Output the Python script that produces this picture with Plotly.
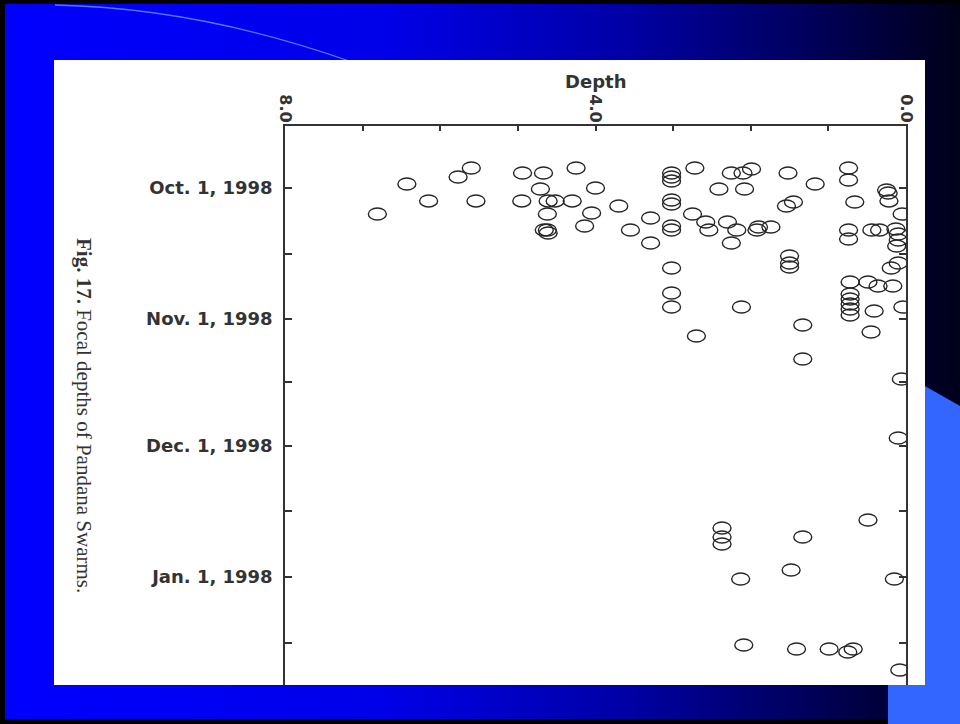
import base64
import plotly.graph_objects as go

# Focal depth (km) of each event in the Pandana swarms
depth = [5.60, 5.77, 6.43, 4.94, 4.67, 4.25, 4.71, 4.00, 6.15, 5.54,
         4.95, 4.61, 4.52, 4.30, 6.81, 4.62, 4.05, 4.14, 4.66, 4.62,
         4.61, 3.70, 3.55, 3.29, 3.29, 3.02, 3.02, 3.02, 2.72, 3.02,
         3.02, 3.02, 3.02, 3.02, 3.02, 3.02, 2.75, 2.58, 2.54, 2.30,
         2.18, 2.25, 2.41, 2.08, 2.25, 2.10, 1.99, 1.92, 1.90, 1.74,
         2.12, 2.70, 1.52, 1.17, 1.54, 1.45, 1.50, 1.50, 1.50, 1.33,
         0.74, 0.74, 0.66, 0.74, 0.74, 0.44, 0.34, 0.25, 0.23, 0.22,
         0.05, 0.13, 0.10, 0.10, 0.12, 0.19, 0.10, 0.72, 0.72, 0.72,
         0.72, 0.72, 0.72, 0.49, 0.36, 0.17, 0.41, 0.45, 0.04, 1.33,
         0.06, 0.10, 2.37, 2.37, 2.37, 1.33, 0.49, 1.48, 2.13, 0.15,
         2.09, 1.41, 0.99, 0.75, 0.68, 0.08]

# Origin time of each event, in days after Oct. 1, 1998
day = [-4.73, -2.60, -0.95, -3.55, -3.55, -4.73, 0.24, 0.00, 3.07, 3.07,
       3.07, 3.07, 3.07, 3.07, 6.15, 6.15, 5.91, 8.99, 9.93, 9.93,
       10.64, 4.26, 9.93, 7.10, 13.01, -3.55, -2.60, -1.66, -4.73, 2.84,
       3.78, 8.99, 9.93, 18.92, 24.83, 28.15, 6.15, 8.04, 9.93, 8.04,
       9.93, 13.01, 0.24, 0.24, -3.55, -3.55, -4.49, 9.93, 9.22, 9.22,
       28.15, 35.00, -3.55, -0.95, 4.26, 3.31, 16.08, 17.74, 18.69, 32.40,
       -4.73, -1.89, 3.31, 9.93, 12.06, 9.93, 9.93, 0.47, 1.18, 3.07,
       6.15, 9.70, 10.88, 12.30, 13.72, 18.92, 17.74, 22.23, 25.07, 26.25,
       27.44, 28.62, 30.04, 22.23, 23.18, 23.18, 29.09, 34.06, 28.15, 40.45,
       45.18, 59.13, 80.42, 82.55, 84.20, 82.55, 78.52, 90.35, 92.48, 92.48,
       108.09, 109.04, 109.04, 109.75, 109.04, 114.00]

assert len(depth) == len(day)

# Axis ticks
depth_ticks = [8, 7, 6, 5, 4, 3, 2, 1, 0]
depth_labels = ["8.0", "", "", "", "4.0", "", "", "", "0.0"]
day_ticks = [0, 15.5, 31, 46, 61, 76.5, 92, 107.5]
day_labels = ["Oct. 1, 1998", "", "Nov. 1, 1998", "", "Dec. 1, 1998", "",
              "Jan. 1, 1998", ""]

W, H = 960, 724
L, R, T, B = 285, 54, 126, 39
PW, PH = W - L - R, H - T - B


def px_x(px):
    return (px - L) / PW


def px_y(py):
    return (T + PH - py) / PH


# Slide backdrop: gradient, decorative arc, corner block and the white panel
svg = """<svg xmlns="http://www.w3.org/2000/svg" width="960" height="724" viewBox="0 0 960 724" preserveAspectRatio="none">
<defs><linearGradient id="g" x1="0" y1="0" x2="1" y2="0">
<stop offset="0" stop-color="#0000FF"/><stop offset="0.4" stop-color="#0000E8"/>
<stop offset="0.65" stop-color="#0000A6"/><stop offset="0.85" stop-color="#000058"/>
<stop offset="1" stop-color="#00001A"/></linearGradient></defs>
<rect width="960" height="724" fill="#000000"/>
<rect x="5" y="4" width="955" height="715" fill="url(#g)"/>
<path d="M 55 5 Q 200 8 352 62" stroke="#4f7bff" stroke-width="1.3" fill="none"/>
<polygon points="888,365 960,406 960,724 888,724" fill="#3366FF"/>
<rect x="54" y="60" width="871" height="625" fill="#FFFFFF"/>
</svg>"""
bg_src = "data:image/svg+xml;base64," + base64.b64encode(svg.encode()).decode()

fig = go.Figure()

fig.add_trace(go.Scatter(
    x=depth, y=day, mode="markers",
    marker=dict(size=16, color="rgba(0,0,0,0)"),
    hovertemplate="Depth %{x:.2f}<br>Day %{y:.1f}<extra></extra>",
    showlegend=False,
))

# Open elliptical markers, anchored at the data values
for d, t in zip(depth, day):
    fig.add_shape(
        type="circle", xref="x", yref="y",
        xsizemode="pixel", ysizemode="pixel",
        xanchor=d, yanchor=t,
        x0=-9, x1=9, y0=-6, y1=6,
        line=dict(color="#262626", width=1.4),
        fillcolor="rgba(0,0,0,0)",
    )

x_font = dict(family="DejaVu Sans", size=16, color="#333333", weight="bold")
y_font = dict(family="DejaVu Sans", size=18, color="#333333", weight="bold")

fig.update_layout(
    width=W, height=H,
    margin=dict(l=L, r=R, t=T, b=B),
    paper_bgcolor="#000000",
    plot_bgcolor="rgba(0,0,0,0)",
    showlegend=False,
    xaxis=dict(
        side="top", range=[8, 0],
        tickvals=depth_ticks, ticktext=depth_labels, tickangle=90,
        ticks="inside", ticklen=5, tickwidth=1.5, tickcolor="#333333",
        showline=True, linecolor="#333333", linewidth=1.5,
        showgrid=False, zeroline=False,
        tickfont=x_font, ticklabelstandoff=-4,
    ),
    yaxis=dict(
        range=[117.55, -14.66],
        tickvals=day_ticks, ticktext=day_labels,
        ticks="inside", ticklen=7, tickwidth=1.5, tickcolor="#333333",
        showline=True, linecolor="#333333", linewidth=1.5, mirror="ticks",
        showgrid=False, zeroline=False,
        tickfont=y_font, ticklabelstandoff=7,
    ),
    images=[dict(
        source=bg_src, xref="paper", yref="paper",
        x=px_x(0), y=px_y(0), sizex=W / PW, sizey=H / PH,
        xanchor="left", yanchor="top", sizing="stretch", layer="below",
    )],
    annotations=[
        dict(
            text="Depth", xref="paper", yref="paper",
            x=px_x(595), y=px_y(81), xanchor="center", yanchor="middle",
            showarrow=False,
            font=dict(family="DejaVu Sans", size=18, color="#333333",
                      weight="bold"),
        ),
        dict(
            text="<b>Fig. 17.</b> Focal depths of Pandana Swarms.",
            xref="paper", yref="paper", x=px_x(84), y=px_y(415),
            xanchor="center", yanchor="middle", textangle=90, showarrow=False,
            font=dict(family="Liberation Serif", size=21, color="#333333"),
        ),
    ],
)

fig.write_html("out.html")
